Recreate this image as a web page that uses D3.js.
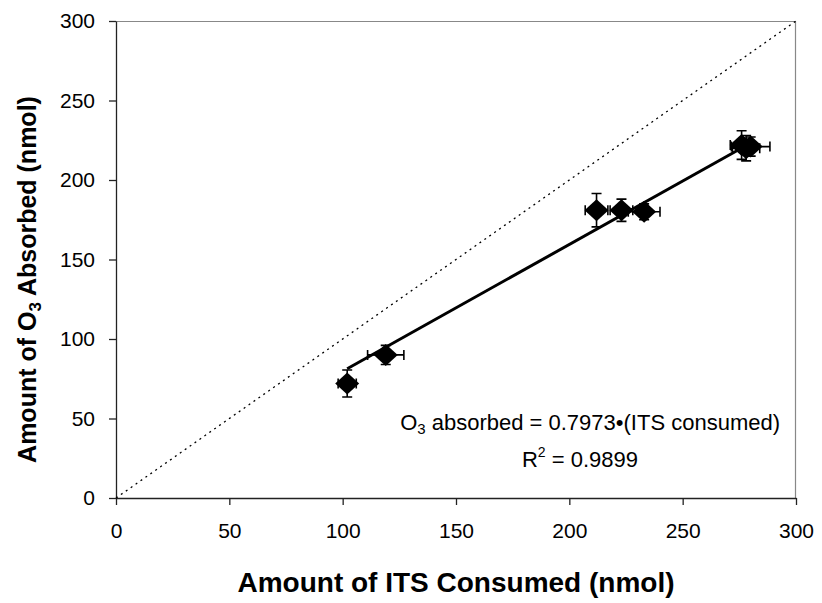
<!DOCTYPE html>
<html>
<head>
<meta charset="utf-8">
<script src="https://cdn.jsdelivr.net/npm/d3@7"></script>
<style>
  body { margin: 0; background: #fff; }
  text { font-family: "Liberation Sans", Arial, sans-serif; }
</style>
</head>
<body>
<div id="chart"></div>
<script>
var svgWidth = 822;
var svgHeight = 603;

var margin = { top: 21, right: 26, bottom: 105, left: 116 };

var width = svgWidth - margin.left - margin.right;
var height = svgHeight - margin.top - margin.bottom;

// data
var itsConsumed = [102, 119, 212, 223, 233, 276, 278, 280];
var o3Absorbed = [72, 90, 181, 181, 180, 222, 220, 221];
var itsError = [4, 8, 5, 5, 7, 5, 6, 8.5];
var o3Error = [8.5, 6, 10.5, 7, 5, 9, 8, 6];
var tickValues = [0, 50, 100, 150, 200, 250, 300];
var slope = 0.7973;

var svg = d3.select("#chart")
    .append("svg")
    .attr("width", svgWidth)
    .attr("height", svgHeight);

svg.append("rect")
    .attr("width", svgWidth)
    .attr("height", svgHeight)
    .attr("fill", "white");

var chartGroup = svg.append("g")
    .attr("transform", `translate(${margin.left}, ${margin.top})`);

var xScale = d3.scaleLinear().domain([0, 300]).range([0, width]);
var yScale = d3.scaleLinear().domain([0, 300]).range([height, 0]);

// gray frame on top and right
chartGroup.append("path")
    .attr("d", `M0,0.5H${width - 0.5}V${height}`)
    .attr("fill", "none")
    .attr("stroke", "#888")
    .attr("stroke-width", 1.2);

var bottomAxis = d3.axisBottom(xScale).tickValues(tickValues).tickSize(7).tickPadding(18).tickSizeOuter(0);
var leftAxis = d3.axisLeft(yScale).tickValues(tickValues).tickSize(7).tickPadding(14).tickSizeOuter(0);

var xAxisG = chartGroup.append("g")
    .attr("transform", `translate(0, ${height})`)
    .call(bottomAxis);

var yAxisG = chartGroup.append("g")
    .call(leftAxis);

[xAxisG, yAxisG].forEach(function(g) {
    g.selectAll("path, line").attr("stroke", "#222").attr("stroke-width", 1.3);
    g.selectAll("text")
        .attr("font-size", "21px")
        .attr("fill", "black")
        .style("font-family", "'Liberation Sans', Arial, sans-serif");
});

// 1:1 dotted line
chartGroup.append("line")
    .attr("x1", xScale(0))
    .attr("y1", yScale(0))
    .attr("x2", xScale(300))
    .attr("y2", yScale(300))
    .attr("stroke", "black")
    .attr("stroke-width", 1.3)
    .attr("stroke-dasharray", "2,4");

// regression line
var xMin = d3.min(itsConsumed), xMax = d3.max(itsConsumed);
chartGroup.append("line")
    .attr("x1", xScale(xMin))
    .attr("y1", yScale(slope * xMin))
    .attr("x2", xScale(xMax))
    .attr("y2", yScale(slope * xMax))
    .attr("stroke", "black")
    .attr("stroke-width", 3);

var points = itsConsumed.map(function(d, i) {
    return { x: d, y: o3Absorbed[i], ex: itsError[i], ey: o3Error[i] };
});

var cap = 5;
var errGroup = chartGroup.append("g")
    .attr("stroke", "black")
    .attr("stroke-width", 1.6)
    .attr("fill", "none");

errGroup.selectAll("path")
    .data(points)
    .enter()
    .append("path")
    .attr("d", function(d) {
        var x0 = xScale(d.x - d.ex), x1 = xScale(d.x + d.ex);
        var y0 = yScale(d.y - d.ey), y1 = yScale(d.y + d.ey);
        var cx = xScale(d.x), cy = yScale(d.y);
        return `M${x0},${cy}H${x1}` +
            `M${x0},${cy - cap}V${cy + cap}M${x1},${cy - cap}V${cy + cap}` +
            `M${cx},${y0}V${y1}` +
            `M${cx - cap},${y0}H${cx + cap}M${cx - cap},${y1}H${cx + cap}`;
    });

chartGroup.append("g").selectAll("path")
    .data(points)
    .enter()
    .append("path")
    .attr("d", "M0,-11L12,0L0,11L-12,0Z")
    .attr("transform", d => `translate(${xScale(d.x)}, ${yScale(d.y)})`)
    .attr("fill", "black");

// equation labels
var eq = chartGroup.append("text")
    .attr("x", 664)
    .attr("y", 409)
    .attr("text-anchor", "end")
    .attr("font-size", "22px")
    .attr("fill", "black");
eq.append("tspan").text("O");
eq.append("tspan").attr("font-size", "15px").attr("dy", 4).text("3");
eq.append("tspan").attr("dy", -4).text(" absorbed = 0.7973\u2022(ITS consumed)");

var r2 = chartGroup.append("text")
    .attr("x", 464)
    .attr("y", 446)
    .attr("text-anchor", "middle")
    .attr("font-size", "22px")
    .attr("fill", "black");
r2.append("tspan").text("R");
r2.append("tspan").attr("font-size", "14px").attr("dy", -10).text("2");
r2.append("tspan").attr("dy", 10).text(" = 0.9899");

// axis titles
chartGroup.append("text")
    .attr("x", width / 2)
    .attr("y", height + 94)
    .attr("text-anchor", "middle")
    .attr("font-size", "28px")
    .attr("fill", "black")
    .style("font-weight", "bold")
    .text("Amount of ITS Consumed (nmol)");

var yTitle = chartGroup.append("text")
    .attr("transform", `translate(${-80}, ${height / 2 + 20}) rotate(-90)`)
    .attr("text-anchor", "middle")
    .attr("font-size", "25px")
    .attr("fill", "black")
    .style("font-weight", "bold");
yTitle.append("tspan").text("Amount of O");
yTitle.append("tspan").attr("font-size", "17px").attr("dy", 5).text("3");
yTitle.append("tspan").attr("dy", -5).text(" Absorbed (nmol)");
</script>
</body>
</html>
